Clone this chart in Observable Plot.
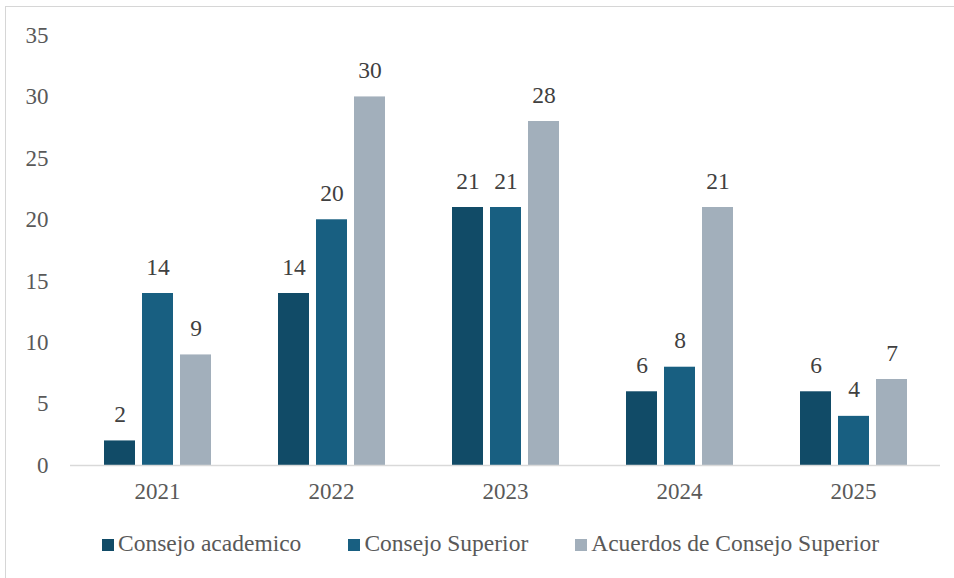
<!DOCTYPE html>
<html>
<head>
<meta charset="utf-8">
<script src="https://cdn.jsdelivr.net/npm/d3@7"></script>
<script src="https://cdn.jsdelivr.net/npm/@observablehq/plot@0.6"></script>
<style>
  html, body { margin: 0; padding: 0; background: #fff; }
  body { width: 954px; height: 578px; position: relative; overflow: hidden; }
  #frame { position: absolute; left: 5px; top: 6px; width: 960px; height: 600px;
           border-left: 1.5px solid #d6d6d6; border-top: 1.5px solid #d6d6d6; }
  #chart { position: absolute; left: 0; top: 0; }
  #legend { position: absolute; left: 102px; top: 530px; display: flex; align-items: center;
            font-size: 23.5px; color: #595959; white-space: nowrap; }
  .item { display: flex; align-items: center; margin-right: 47px; }
  .sw { width: 12px; height: 12px; margin-right: 4px; margin-top: 2px; }
</style>
</head>
<body>
<div id="frame"></div>
<div id="chart"></div>
<div id="legend"></div>
<script>
const years = ["2021", "2022", "2023", "2024", "2025"];
const series = ["Consejo academico", "Consejo Superior", "Acuerdos de Consejo Superior"];
const colors = ["#114b67", "#185f81", "#a2afbb"];
const consejoAcademico = [2, 14, 21, 6, 6];
const consejoSuperior = [14, 20, 21, 8, 4];
const acuerdos = [9, 30, 28, 21, 7];
const yTicks = [0, 5, 10, 15, 20, 25, 30, 35];

const valuesBySeries = [consejoAcademico, consejoSuperior, acuerdos];
const data = [];
years.forEach((y, i) => {
  series.forEach((s, j) => data.push({year: y, series: s, value: valuesBySeries[j][i]}));
});

const FONT = '"Liberation Serif"';
const chart = Plot.plot({
  width: 954,
  height: 510,
  marginLeft: 70,
  marginRight: 14,
  marginTop: 35,
  marginBottom: 45,
  style: {fontSize: "23px", color: "#595959", background: "transparent"},
  fx: {domain: years, padding: 0, label: null, tickSize: 0, tickPadding: 17},
  x: {domain: series, paddingInner: 0.195, paddingOuter: 0.857, axis: null},
  y: {domain: [0, 35], ticks: yTicks, tickSize: 0, tickPadding: 22, label: null, tickFormat: d => d},
  color: {domain: series, range: colors},
  marks: [
    Plot.barY(data, {fx: "year", x: "series", y: "value", fill: "series"}),
    Plot.ruleY([0], {stroke: "#d9d9d9", strokeWidth: 1.5}),
    Plot.text(data, {fx: "year", x: "series", y: "value", text: d => String(d.value),
      lineAnchor: "bottom", dy: -19, fill: "#404040", fontSize: 23.5})
  ]
});
chart.querySelectorAll("text, tspan, g").forEach(el => el.style.setProperty("font-family", FONT, "important"));
chart.style.setProperty("font-family", FONT, "important");
document.getElementById("chart").appendChild(chart);

const legend = document.getElementById("legend");
legend.style.setProperty("font-family", FONT, "important");
series.forEach((s, j) => {
  const item = document.createElement("div");
  item.className = "item";
  const sw = document.createElement("span");
  sw.className = "sw";
  sw.style.background = colors[j];
  const t = document.createElement("span");
  t.textContent = s;
  t.style.setProperty("font-family", FONT, "important");
  item.appendChild(sw);
  item.appendChild(t);
  legend.appendChild(item);
});
</script>
</body>
</html>
